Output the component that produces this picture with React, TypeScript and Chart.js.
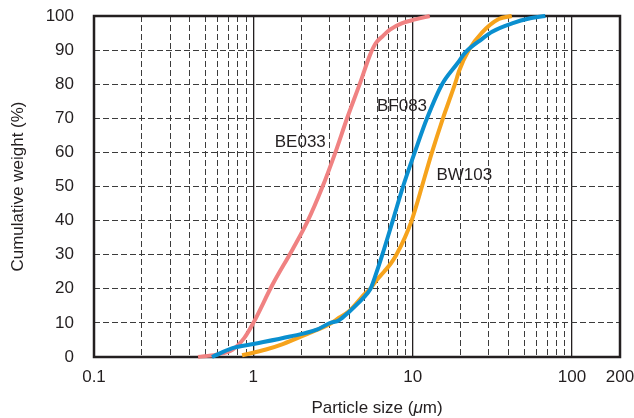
import React, { useEffect, useRef } from "react";
import { Chart, registerables } from "chart.js";

Chart.register(...registerables);

// ---- data ----
const BE033_SIZE = [0.45, 0.584, 0.742, 0.878, 1, 1.315, 1.755, 2.18, 2.7, 3.26, 3.88, 4.68, 5.4, 5.86, 6.45, 7.2, 8.6, 10.4, 12.8];
const BE033_CUM = [0, 0.7, 2.2, 5.6, 10, 21.1, 31.4, 39.6, 49.6, 59.8, 70.1, 80.4, 88.6, 92, 94, 96, 97.9, 99, 100];

const BF083_SIZE = [0.55, 0.74, 1, 1.7, 2.5, 3, 3.45, 4, 4.6, 5.2, 5.46, 5.75, 6.45, 7.5, 8.7, 10.3, 12.3, 15.3, 19, 21.5, 27.3, 31.5, 43, 53, 68];
const BF083_CUM = [0, 2.6, 3.8, 6, 8, 9.9, 10.8, 13.3, 16, 18.7, 20.2, 23, 30, 40, 50, 60, 70, 80, 86, 89.4, 93.3, 95.4, 98, 99.2, 100];

const BW103_SIZE = [0.85, 1.2, 1.53, 2.24, 3, 3.45, 4, 5, 5.41, 5.93, 6.61, 7.31, 7.9, 8.93, 9.85, 10.64, 11.43, 13.21, 15.48, 16.88, 18.41, 19.6, 22.5, 27.3, 34.7, 41.9];
const BW103_CUM = [0.5, 2.2, 3.8, 7, 9.6, 11.5, 13.5, 18.5, 20, 22.5, 25, 27.5, 30, 35, 40, 45, 50, 60, 70, 75, 80, 84, 90, 95.2, 99.1, 100];

const SERIES_NAMES = ["BF083", "BW103", "BE033"];
const SERIES_COLORS = ["#0a8fcf", "#f6a31c", "#f08282"];

const X_TICKS = [
  0.1, 0.2, 0.3, 0.4, 0.5, 0.6, 0.7, 0.8, 0.9,
  1, 2, 3, 4, 5, 6, 7, 8, 9,
  10, 20, 30, 40, 50, 60, 70, 80, 90,
  100, 200,
];
const X_LABELED = [0.1, 1, 10, 100, 200];
const X_SOLID = [0.1, 1, 10, 100, 200];
const Y_MIN = 0;
const Y_MAX = 100;
const Y_STEP = 10;

const LABEL_TEXT = ["BE033", "BF083", "BW103"];
const LABEL_X = [1.97, 8.57, 21.1];
const LABEL_Y = [62.9, 73.6, 53.4];

const FONT_FAMILY = '"Liberation Sans", Arial, Helvetica, sans-serif';
const TEXT_COLOR = "#231f20";

const near = (a: number, b: number) => Math.abs(a - b) < 1e-9 * Math.max(1, Math.abs(b));

const framePlugin = {
  id: "frame",
  beforeDatasetsDraw(chart: any) {
    const { ctx, chartArea: a } = chart;
    ctx.save();
    ctx.strokeStyle = TEXT_COLOR;
    ctx.lineWidth = 2.5;
    ctx.strokeRect(a.left, a.top, a.right - a.left, a.bottom - a.top);
    ctx.restore();
  },
};

const textPlugin = {
  id: "texts",
  afterDatasetsDraw(chart: any) {
    const { ctx, chartArea: a } = chart;
    const xs = chart.scales.x;
    const ys = chart.scales.y;
    ctx.save();
    ctx.fillStyle = TEXT_COLOR;
    ctx.font = `17px ${FONT_FAMILY}`;
    ctx.textAlign = "center";
    ctx.textBaseline = "middle";
    LABEL_TEXT.forEach((t, i) => {
      ctx.fillText(t, xs.getPixelForValue(LABEL_X[i]), ys.getPixelForValue(LABEL_Y[i]));
    });
    // x axis title with italic mu
    const parts = [
      { t: "Particle size (", f: `17px ${FONT_FAMILY}` },
      { t: "\u03bc", f: `italic 17px ${FONT_FAMILY}` },
      { t: "m)", f: `17px ${FONT_FAMILY}` },
    ];
    let total = 0;
    const widths = parts.map((p) => {
      ctx.font = p.f;
      const w = ctx.measureText(p.t).width;
      total += w;
      return w;
    });
    const cx = (a.left + a.right) / 2 + 20;
    let x = cx - total / 2;
    ctx.textAlign = "left";
    ctx.textBaseline = "alphabetic";
    parts.forEach((p, i) => {
      ctx.font = p.f;
      ctx.fillText(p.t, x, a.bottom + 56);
      x += widths[i];
    });
    ctx.restore();
  },
};

export default function App() {
  const ref = useRef<HTMLCanvasElement | null>(null);

  useEffect(() => {
    if (!ref.current) return;
    const mk = (xs: number[], ys: number[]) => xs.map((x, i) => ({ x, y: ys[i] }));
    const datasets = [
      mk(BF083_SIZE, BF083_CUM),
      mk(BW103_SIZE, BW103_CUM),
      mk(BE033_SIZE, BE033_CUM),
    ].map((data, i) => ({
      label: SERIES_NAMES[i],
      data,
      borderColor: SERIES_COLORS[i],
      backgroundColor: SERIES_COLORS[i],
      borderWidth: 4,
      pointRadius: 0,
      cubicInterpolationMode: "monotone" as const,
      fill: false,
      clip: 6,
    }));

    const chart = new Chart(ref.current, {
      type: "line",
      data: { datasets },
      plugins: [framePlugin, textPlugin],
      options: {
        animation: false,
        responsive: false,
        devicePixelRatio: 1,
        layout: { padding: { top: 16, right: 14, left: 0, bottom: 0 } },
        plugins: {
          legend: { display: false },
          tooltip: { enabled: false },
        },
        scales: {
          x: {
            type: "logarithmic",
            min: 0.1,
            max: 200,
            afterBuildTicks: (scale: any) => {
              scale.ticks = X_TICKS.map((v) => ({ value: v }));
            },
            afterFit: (scale: any) => {
              scale.height = 61;
              scale.paddingLeft = 0;
              scale.paddingRight = 0;
            },
            ticks: {
              autoSkip: false,
              maxRotation: 0,
              minRotation: 0,
              padding: 10,
              color: TEXT_COLOR,
              font: { family: FONT_FAMILY, size: 17 },
              callback: (v: any) => {
                const n = Number(v);
                return X_LABELED.some((l) => near(l, n)) ? String(n) : "";
              },
            },
            grid: {
              drawTicks: false,
              color: (c: any) => (X_SOLID.some((l) => near(l, c.tick?.value)) ? "#231f20" : "#3c3c3c"),
              lineWidth: (c: any) => (X_SOLID.some((l) => near(l, c.tick?.value)) ? 1.3 : 1),
            },
            border: {
              display: false,
              dash: (c: any) => (X_SOLID.some((l) => near(l, c.tick?.value)) ? [] : [6, 3]),
            },
          },
          y: {
            type: "linear",
            min: Y_MIN,
            max: Y_MAX,
            afterFit: (scale: any) => {
              scale.width = 94;
              scale.paddingTop = 0;
              scale.paddingBottom = 0;
            },
            ticks: {
              stepSize: Y_STEP,
              padding: 20,
              color: TEXT_COLOR,
              font: { family: FONT_FAMILY, size: 17 },
            },
            title: {
              display: true,
              text: "Cumulative weight (%)",
              color: TEXT_COLOR,
              font: { family: FONT_FAMILY, size: 17 },
              padding: { top: 8, bottom: 0 },
            },
            grid: {
              drawTicks: false,
              color: "#3c3c3c",
              lineWidth: 1,
            },
            border: {
              display: false,
              dash: [6, 3],
            },
          },
        },
      } as any,
    });
    return () => chart.destroy();
  }, []);

  return (
    <div style={{ position: "absolute", left: 0, top: 0, width: 634, height: 418, background: "#fff" }}>
      <canvas ref={ref} width={634} height={418} style={{ width: 634, height: 418, display: "block" }} />
    </div>
  );
}
